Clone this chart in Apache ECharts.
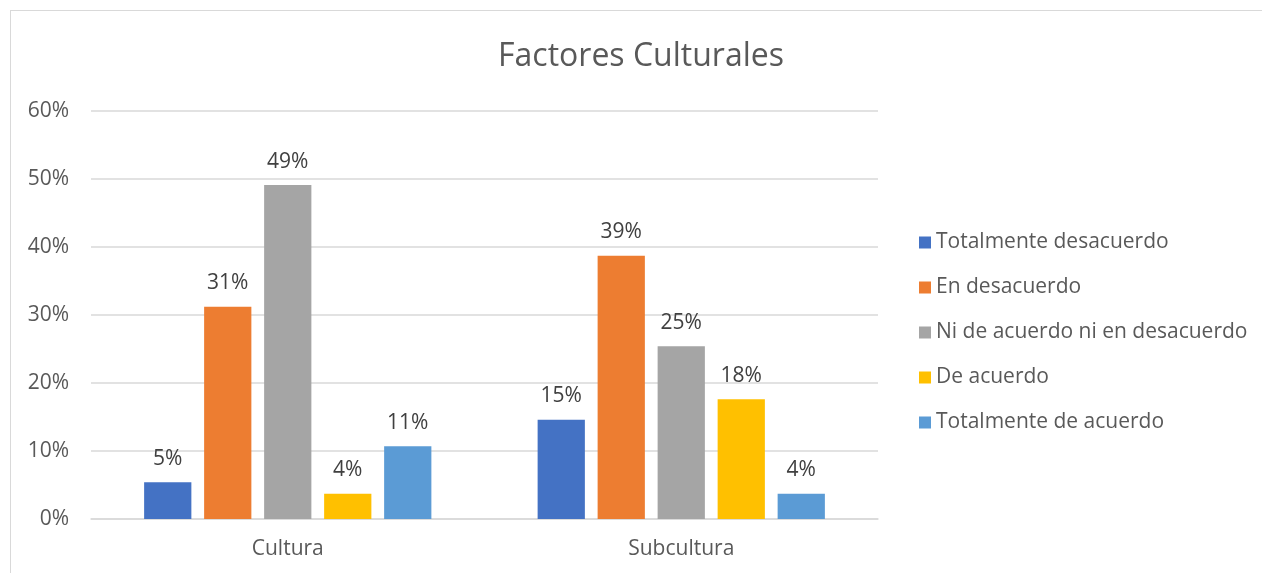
<!DOCTYPE html>
<html>
<head>
<meta charset="utf-8">
<script src="https://cdn.jsdelivr.net/npm/echarts@6/dist/echarts.min.js"></script>
<style>
  html, body { margin: 0; padding: 0; background: #fff; }
  #chart { position: absolute; left: 10px; top: 10px; width: 1262px; height: 573px; border: 1px solid #d9d9d9; box-sizing: border-box; }
</style>
</head>
<body>
<div id="chart"></div>
<script>
const categories = ['Cultura', 'Subcultura'];
const seriesNames = ['Totalmente desacuerdo', 'En desacuerdo', 'Ni de acuerdo ni en desacuerdo', 'De acuerdo', 'Totalmente de acuerdo'];
const totalmenteDesacuerdo = [5.4, 14.6];
const enDesacuerdo = [31.2, 38.7];
const niDeAcuerdo = [49.1, 25.4];
const deAcuerdo = [3.7, 17.6];
const totalmenteDeAcuerdo = [10.7, 3.7];
const colors = ['#4472c4', '#ed7d31', '#a5a5a5', '#ffc000', '#5b9bd5'];

const values = [totalmenteDesacuerdo, enDesacuerdo, niDeAcuerdo, deAcuerdo, totalmenteDeAcuerdo];
const font = '"Open Sans", "Liberation Sans", sans-serif';

const myChart = echarts.init(document.getElementById('chart'));
myChart.setOption({
  animation: false,
  textStyle: { fontFamily: font },
  title: {
    text: 'Factores Culturales',
    left: 'center',
    top: 25,
    textStyle: { color: '#595959', fontSize: 32, fontWeight: 'normal', fontFamily: font },
  },
  legend: {
    orient: 'vertical',
    left: 903,
    top: 216,
    itemWidth: 12,
    itemHeight: 12,
    itemGap: 24,
    icon: 'rect',
    textStyle: { color: '#595959', fontSize: 21, fontFamily: font },
    data: seriesNames,
  },
  grid: { left: 80, top: 100, width: 787, height: 408, containLabel: false },
  xAxis: {
    type: 'category',
    data: categories,
    axisLine: { lineStyle: { color: '#d9d9d9', width: 1.5 } },
    axisTick: { show: false },
    axisLabel: { color: '#595959', fontSize: 21, margin: 20 },
  },
  yAxis: {
    type: 'value',
    min: 0,
    max: 60,
    interval: 10,
    axisLine: { show: false },
    axisTick: { show: false },
    axisLabel: { color: '#595959', fontSize: 21, margin: 22, formatter: '{value}%' },
    splitLine: { lineStyle: { color: '#d9d9d9', width: 1.5 } },
  },
  series: seriesNames.map((name, i) => ({
    name,
    type: 'bar',
    data: values[i],
    barGap: '27%',
    barCategoryGap: '27%',
    itemStyle: { color: colors[i] },
    label: {
      show: true,
      position: 'top',
      distance: 13,
      color: '#404040',
      fontSize: 21,
      formatter: p => Math.round(p.value) + '%',
    },
  })),
});
</script>
</body>
</html>
